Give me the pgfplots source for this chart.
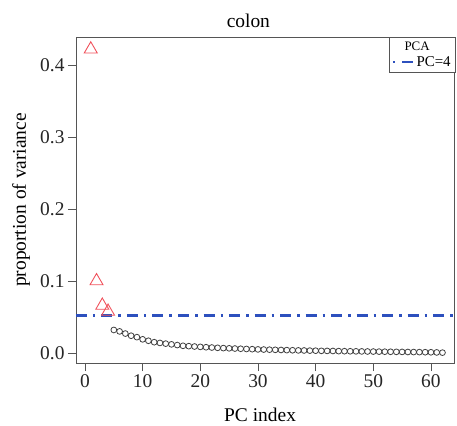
\documentclass[border=0pt]{standalone}
\usepackage{fontspec}
\setmainfont{Liberation Serif}
\usepackage{pgfplots}
\pgfplotsset{compat=1.18}

\definecolor{tri}{RGB}{240,80,90}
\definecolor{pcblue}{RGB}{45,80,190}
\definecolor{axgray}{RGB}{85,85,85}

\begin{document}
\begin{tikzpicture}
\begin{axis}[
  name=ax,
  scale only axis,
  width=378bp, height=326bp,
  xmin=-1.56, xmax=64,
  ymin=-0.0139, ymax=0.439,
  xtick={0,10,...,60},
  ytick={0,0.1,0.2,0.3,0.4},
  yticklabel style={/pgf/number format/.cd, fixed, fixed zerofill, precision=1},
  /pgf/number format/assume math mode=true,
  tick align=outside,
  xtick pos=bottom, ytick pos=left,
  major tick length=8bp,
  axis line style={axgray, line width=0.8pt},
  tick style={axgray, line width=0.8pt},
  ticklabel style={font=\fontsize{19.5}{22}\selectfont, text=black!85},
  title={colon},
  title style={font=\fontsize{19.5}{22}\selectfont, at={(axis description cs:0.456,1)}, anchor=south},
  xlabel={PC index},
  xlabel style={font=\fontsize{19.5}{22}\selectfont, at={(axis description cs:0.487,0)}, anchor=base, yshift=-58bp},
  ylabel={proportion of variance},
  ylabel style={font=\fontsize{19.5}{22}\selectfont, at={(axis description cs:-0.1323,0.5)}, anchor=base},
  legend style={at={(rel axis cs:1,1)}, anchor=north east, xshift=2bp,
    draw=axgray, line width=0.6pt, inner xsep=3bp, inner ysep=3bp,
    font=\fontsize{15}{17}\selectfont, row sep=0bp,
    /tikz/every even column/.append style={column sep=0bp}},
  legend cell align=left,
  legend image code/.code={\draw[#1] (0bp,0bp) -- (20bp,0bp);},
]
% legend title and entry
\addlegendimage{empty legend}
\addlegendentry{\hspace*{-12bp}{\fontsize{13}{15}\selectfont PCA}}
\addlegendimage{pcblue, line width=2.4bp, dash pattern=on 2bp off 7bp on 11bp off 20bp}
\addlegendentry{PC=4}

% PC = 4 line
\addplot[pcblue, line width=2.4bp, dash pattern=on 11bp off 6bp on 2.5bp off 6bp, forget plot]
coordinates {(-1.56,0.052) (64,0.052)};

% retained components
\addplot[only marks, mark=triangle, mark size=7.5bp, mark options={tri, line width=0.9pt}, forget plot]
coordinates {(1,0.422) (2,0.100) (3,0.066) (4,0.0576)};

% remaining components
\addplot[only marks, mark=o, mark size=2.9bp, mark options={black!75, line width=0.8pt}, forget plot]
coordinates {
(5,0.032) (6,0.030) (7,0.027) (8,0.024) (9,0.022) (10,0.019)
(11,0.017) (12,0.015) (13,0.014) (14,0.013) (15,0.012) (16,0.011)
(17,0.010) (18,0.0095) (19,0.009) (20,0.0085) (21,0.008) (22,0.0076)
(23,0.0072) (24,0.0068) (25,0.0065) (26,0.0062) (27,0.0059) (28,0.0056)
(29,0.0053) (30,0.0050) (31,0.0048) (32,0.0046) (33,0.0044) (34,0.0042)
(35,0.0040) (36,0.0038) (37,0.0036) (38,0.0035) (39,0.0033) (40,0.0032)
(41,0.0030) (42,0.0029) (43,0.0028) (44,0.0026) (45,0.0025) (46,0.0024)
(47,0.0023) (48,0.0022) (49,0.0021) (50,0.0020) (51,0.0019) (52,0.0018)
(53,0.0017) (54,0.0016) (55,0.0015) (56,0.0014) (57,0.0013) (58,0.0012)
(59,0.0011) (60,0.0010) (61,0.0008) (62,0.0005)
};
\end{axis}
\pgfresetboundingbox
\path ([xshift=-76bp,yshift=-63bp]ax.south west) rectangle ([xshift=3bp,yshift=37bp]ax.north east);
\end{tikzpicture}
\end{document}
